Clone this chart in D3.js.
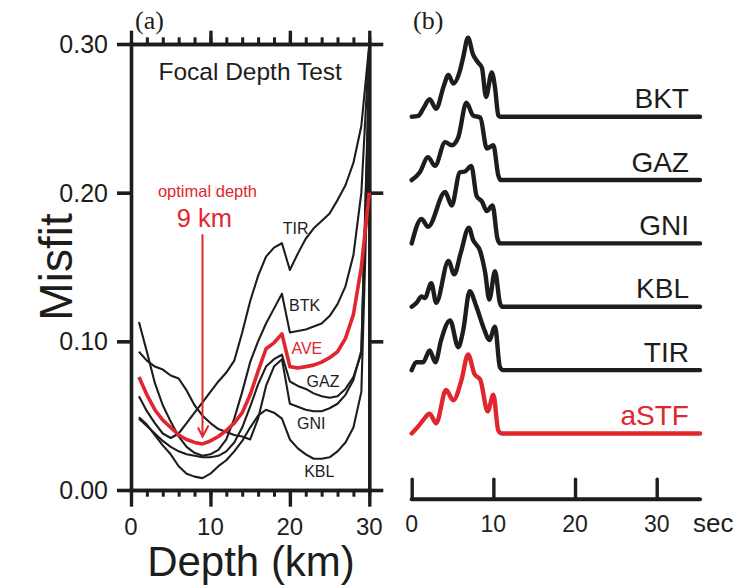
<!DOCTYPE html>
<html>
<head>
<meta charset="utf-8">
<script src="https://cdn.jsdelivr.net/npm/d3@7"></script>
<style>
  html, body { margin: 0; padding: 0; background: #fff; }
  svg { display: block; }
  text { font-family: "Liberation Sans", Arial, Helvetica, sans-serif; }
  text.serif { font-family: "Liberation Serif", "Times New Roman", serif; }
</style>
</head>
<body>
<svg id="chart" width="739" height="585"></svg>
<script>
// ---------- Panel (a): misfit versus source depth ----------
const depths = d3.range(1, 31);               // km
const misfitTicks = [0, 0.1, 0.2, 0.3];
const depthTicks = [0, 10, 20, 30];
const depthMinorTicks = d3.range(0, 31, 2);

const misfitTIR = [0.063,0.053,0.045,0.038,0.035,0.038,0.045,0.052,0.059,0.066,
                   0.073,0.079,0.087,0.106,0.127,0.144,0.157,0.163,0.166,0.148,
                   0.159,0.169,0.176,0.181,0.186,0.195,0.205,0.220,0.245,0.300];
const misfitBTK = [0.113,0.093,0.072,0.057,0.046,0.036,0.029,0.025,0.023,0.024,
                   0.027,0.034,0.048,0.066,0.086,0.100,0.112,0.122,0.132,0.106,
                   0.107,0.108,0.110,0.112,0.117,0.125,0.137,0.158,0.200,0.300];
const misfitGAZ = [0.048,0.043,0.038,0.033,0.029,0.026,0.024,0.023,0.022,0.022,
                   0.023,0.026,0.032,0.042,0.056,0.071,0.083,0.088,0.091,0.073,
                   0.070,0.068,0.065,0.063,0.062,0.063,0.068,0.076,0.092,0.290];
const misfitGNI = [0.093,0.087,0.083,0.081,0.077,0.075,0.067,0.057,0.050,0.045,
                   0.041,0.039,0.037,0.036,0.034,0.048,0.070,0.083,0.088,0.058,
                   0.056,0.054,0.053,0.053,0.055,0.058,0.064,0.074,0.094,0.280];
const misfitKBL = [0.049,0.044,0.037,0.030,0.024,0.016,0.011,0.009,0.008,0.011,
                   0.016,0.020,0.026,0.033,0.042,0.050,0.054,0.052,0.048,0.034,
                   0.028,0.024,0.021,0.021,0.022,0.026,0.032,0.042,0.066,0.250];
const misfitAVE = [0.076,0.064,0.054,0.047,0.042,0.037,0.034,0.032,0.031,0.033,
                   0.036,0.040,0.045,0.052,0.064,0.080,0.095,0.099,0.105,0.083,
                   0.082,0.083,0.084,0.086,0.089,0.093,0.102,0.118,0.150,0.200];

const optimalDepth = 9;         // km
const arrowFrom = 0.172, arrowTo = 0.036;

// ---------- Panel (b): source time functions ----------
const stations = ["BKT", "GAZ", "GNI", "KBL", "TIR", "aSTF"];
const timeTicks = [0, 10, 20, 30];
const traceEnd = 35.3;          // sec
// [time (s), amplitude (% of peak)]
const stfBKT = [[0,0],[0.8,1],[1.4,10],[2.2,22],[3.0,10],[3.9,38],[4.5,53],[5.1,42],[5.9,58],[6.3,75],[6.9,100],[7.5,79],[8.1,69],[8.6,62],[9.1,25],[9.8,56],[10.2,37],[10.6,2],[10.8,0]];
const stfGAZ = [[0,0],[1.0,10],[2.0,29],[2.85,18],[4.1,48],[4.9,44],[5.7,54],[6.7,98],[7.5,82],[8.4,79],[9.2,40],[10.0,44],[10.6,6],[10.9,0]];
const stfGNI = [[0,0],[1.2,31],[2.0,21],[4.1,65],[4.9,48],[5.9,90],[6.5,91],[7.3,98],[7.95,60],[8.6,53],[9.2,41],[9.9,48],[10.5,6],[10.8,0]];
const stfKBL = [[0,0],[0.6,5],[1.2,13],[1.6,11],[2.4,30],[3.0,5],[4.5,58],[5.2,41],[6.0,68],[7.0,100],[7.5,85],[8.4,70],[9.0,43],[9.5,9],[10.2,45],[10.8,5],[11.1,0]];
const stfTIR = [[0,0],[0.6,10],[1.4,10],[2.2,25],[2.9,10],[3.6,38],[4.7,63],[5.7,29],[6.3,50],[7.1,100],[7.9,81],[8.9,51],[9.5,38],[10.2,55],[10.8,4],[11.2,0]];
const stfASTF = [[0,0],[0.8,9],[1.4,17],[2.2,25],[3.0,13],[4.2,55],[5.1,42],[6.1,68],[6.9,100],[7.7,75],[8.4,68],[9.3,28],[10.0,49],[10.6,4],[11.0,0]];

// ---------- drawing ----------
const BLACK = "#1d1d1b";
const RED = "#e1262d";
const svg = d3.select("#chart");

const x = d3.scaleLinear().domain([0, 30]).range([131, 369.3]);
const y = d3.scaleLinear().domain([0, 0.3]).range([490, 44]);

const pa = svg.append("g");

function styleAxis(g, width) {
  g.select(".domain").attr("stroke", BLACK).attr("stroke-width", 3.6).attr("stroke-linecap", "square");
  g.selectAll(".tick line").attr("stroke", BLACK).attr("stroke-width", width);
  g.selectAll(".tick text").remove();
}

// minor and major depth ticks, bottom (outward) and top (outward)
pa.append("g").attr("transform", `translate(0,${y(0)})`)
  .call(d3.axisBottom(x).tickValues(depthMinorTicks).tickSize(6.7).tickSizeOuter(0))
  .call(g => styleAxis(g, 3));
pa.append("g").attr("transform", `translate(0,${y(0)})`)
  .call(d3.axisBottom(x).tickValues(depthTicks).tickSize(16.7).tickSizeOuter(0))
  .call(g => styleAxis(g, 3.4));
pa.append("g").attr("transform", `translate(0,${y(0.3)})`)
  .call(d3.axisTop(x).tickValues(depthMinorTicks).tickSize(6.7).tickSizeOuter(0))
  .call(g => styleAxis(g, 3));
pa.append("g").attr("transform", `translate(0,${y(0.3)})`)
  .call(d3.axisTop(x).tickValues(depthTicks).tickSize(13.3).tickSizeOuter(0))
  .call(g => styleAxis(g, 3.4));
// misfit ticks, left and right (outward)
pa.append("g").attr("transform", `translate(${x(0)},0)`)
  .call(d3.axisLeft(y).tickValues(misfitTicks).tickSize(14).tickSizeOuter(0))
  .call(g => styleAxis(g, 3.6));
pa.append("g").attr("transform", `translate(${x(30)},0)`)
  .call(d3.axisRight(y).tickValues(misfitTicks).tickSize(14).tickSizeOuter(0))
  .call(g => styleAxis(g, 3.6));

// tick labels
pa.append("g").selectAll("text").data(misfitTicks).join("text")
  .attr("x", x(0) - 23).attr("y", d => y(d)).attr("dy", "0.36em")
  .attr("text-anchor", "end").attr("font-size", 25).attr("fill", BLACK)
  .text(d => d.toFixed(2));
pa.append("g").selectAll("text").data(depthTicks).join("text")
  .attr("x", d => x(d)).attr("y", 535)
  .attr("text-anchor", "middle").attr("font-size", 24).attr("fill", BLACK)
  .text(d => d);

// axis titles
pa.append("text").attr("x", 251).attr("y", 576)
  .attr("text-anchor", "middle").attr("font-size", 42).attr("fill", BLACK)
  .text("Depth (km)");
pa.append("text").attr("transform", `translate(72,${y(0.15)}) rotate(-90)`)
  .attr("text-anchor", "middle").attr("font-size", 46).attr("fill", BLACK)
  .text("Misfit");

pa.append("text").attr("x", x(15)).attr("y", 80)
  .attr("text-anchor", "middle").attr("font-size", 24.5).attr("fill", BLACK)
  .text("Focal Depth Test");

// misfit curves
const line = d3.line().x((d, i) => x(depths[i])).y(d => y(d)).curve(d3.curveLinear);
const blackCurves = [misfitTIR, misfitBTK, misfitGAZ, misfitGNI, misfitKBL];
pa.append("g").selectAll("path").data(blackCurves).join("path")
  .attr("d", line).attr("fill", "none").attr("stroke", BLACK)
  .attr("stroke-width", 2.1).attr("stroke-linejoin", "round");
pa.append("path").datum(misfitAVE).attr("d", line)
  .attr("fill", "none").attr("stroke", RED).attr("stroke-width", 3.6)
  .attr("stroke-linejoin", "round");

// curve labels
const curveLabels = [
  { t: "TIR", d: 19.1, m: 0.172, c: BLACK },
  { t: "BTK", d: 19.9, m: 0.1204, c: BLACK },
  { t: "AVE", d: 20.2, m: 0.0915, c: RED },
  { t: "GAZ", d: 22.1, m: 0.0695, c: BLACK },
  { t: "GNI", d: 20.9, m: 0.0408, c: BLACK },
  { t: "KBL", d: 21.8, m: 0.0089, c: BLACK }
];
pa.append("g").selectAll("text").data(curveLabels).join("text")
  .attr("x", d => x(d.d)).attr("y", d => y(d.m))
  .attr("font-size", 16).attr("fill", d => d.c).text(d => d.t);

// optimal depth arrow
const ax = x(optimalDepth);
pa.append("line").attr("x1", ax).attr("x2", ax)
  .attr("y1", y(arrowFrom)).attr("y2", y(arrowTo))
  .attr("stroke", RED).attr("stroke-width", 2);
pa.append("path")
  .attr("d", `M${ax - 4.5},${y(arrowTo) - 9} L${ax},${y(arrowTo)} L${ax + 6},${y(arrowTo) - 11}`)
  .attr("fill", "none").attr("stroke", RED).attr("stroke-width", 2);
pa.append("text").attr("x", ax + 5).attr("y", 197)
  .attr("text-anchor", "middle").attr("font-size", 16.5).attr("fill", RED)
  .text("optimal depth");
pa.append("text").attr("x", ax + 2).attr("y", 226.5)
  .attr("text-anchor", "middle").attr("font-size", 25.5).attr("fill", RED)
  .text("9 km");

// panel letters
svg.append("text").attr("class", "serif").attr("x", 135).attr("y", 29)
  .attr("font-size", 26).attr("fill", BLACK).text("(a)");
svg.append("text").attr("class", "serif").attr("x", 413).attr("y", 29)
  .attr("font-size", 26).attr("fill", BLACK).text("(b)");

// ---------- Panel (b) ----------
const t = d3.scaleLinear().domain([0, 30]).range([411.7, 656.7]);
const row = d3.scalePoint().domain(stations).range([116.7, 433.5]);
const amp = d3.scaleLinear().domain([0, 100]).range([0, -79]);
const traces = [stfBKT, stfGAZ, stfGNI, stfKBL, stfTIR, stfASTF];

const pb = svg.append("g");
const traceLine = d3.line().x(d => t(d[0])).y(d => amp(d[1])).curve(d3.curveMonotoneX);

stations.forEach((s, i) => {
  const col = s === "aSTF" ? RED : BLACK;
  const g = pb.append("g").attr("transform", `translate(0,${row(s)})`);
  g.append("path").datum(traces[i].concat([[traceEnd, 0]]))
    .attr("d", traceLine).attr("fill", "none").attr("stroke", col)
    .attr("stroke-width", 4.4).attr("stroke-linejoin", "round").attr("stroke-linecap", "round");
  g.append("text").attr("x", t(traceEnd) - 11).attr("y", -8.5)
    .attr("text-anchor", "end").attr("font-size", 28).attr("fill", col).text(s);
});

// time axis
const tAxis = pb.append("g").attr("transform", "translate(0,499.3)");
tAxis.append("line").attr("x1", t(0)).attr("x2", t(traceEnd))
  .attr("stroke", BLACK).attr("stroke-width", 4).attr("stroke-linecap", "round");
tAxis.call(d3.axisTop(t).tickValues(timeTicks).tickSize(20).tickSizeOuter(0))
  .call(g => {
    g.select(".domain").remove();
    g.selectAll(".tick line").attr("stroke", BLACK).attr("stroke-width", 3.4).attr("stroke-linecap", "round");
    g.selectAll(".tick text").remove();
  });
pb.append("g").selectAll("text").data(timeTicks).join("text")
  .attr("x", d => t(d)).attr("y", 532)
  .attr("text-anchor", "middle").attr("font-size", 23).attr("fill", BLACK)
  .text(d => d);
pb.append("text").attr("x", 693).attr("y", 532).attr("font-size", 26)
  .attr("fill", BLACK).text("sec");
</script>
</body>
</html>
